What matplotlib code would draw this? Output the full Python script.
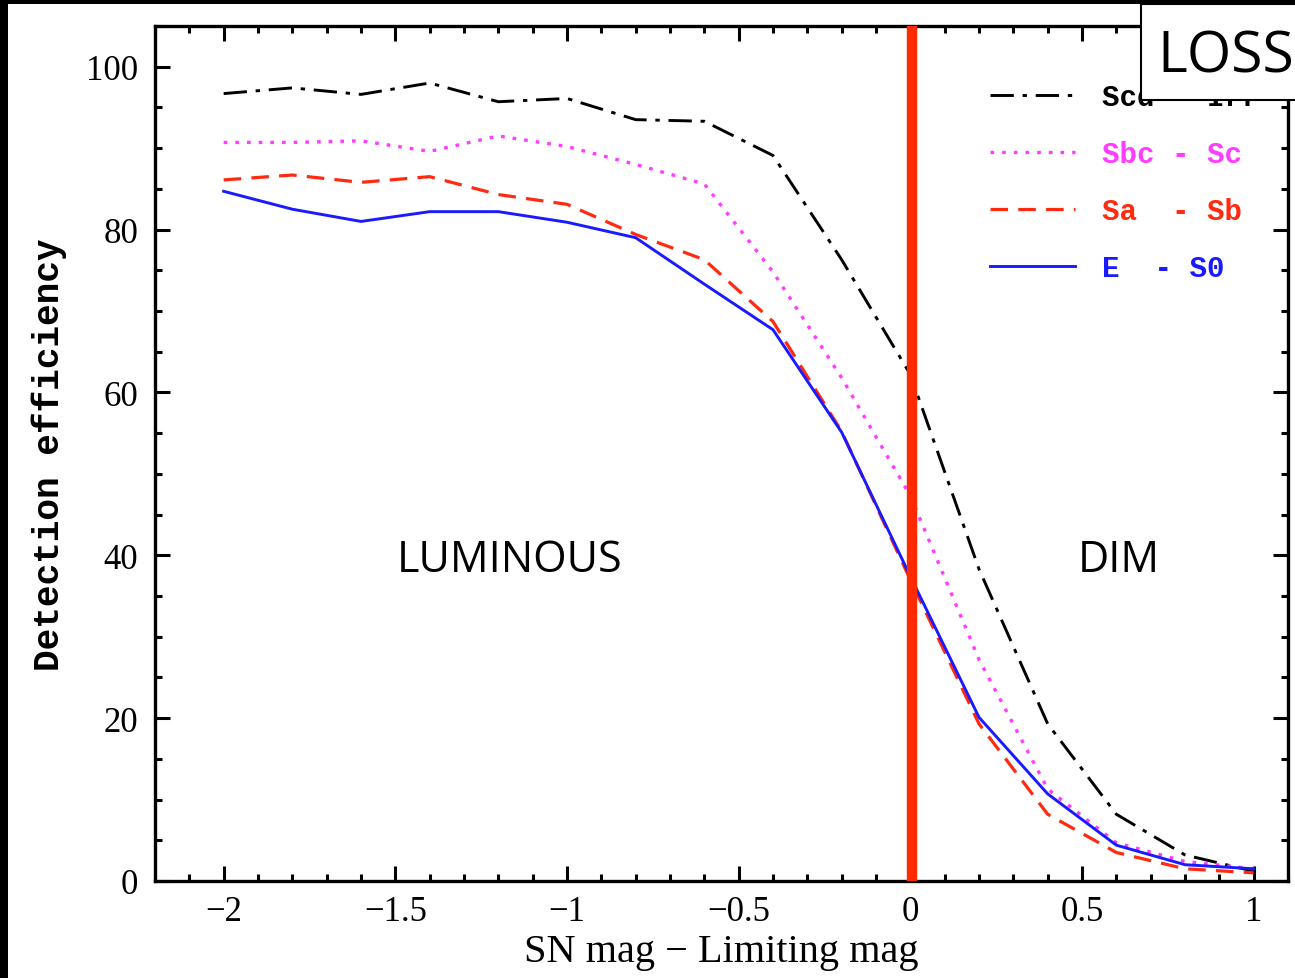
import matplotlib
matplotlib.use('Agg')
import matplotlib.pyplot as plt
from matplotlib.patches import Rectangle
from matplotlib.ticker import MultipleLocator, FuncFormatter

# Data
mag_diff = [-2.0, -1.8, -1.6, -1.4, -1.2, -1.0, -0.8, -0.6, -0.4, -0.2,
            0.0, 0.2, 0.4, 0.6, 0.8, 1.0]

eff_scd_irr = [96.7, 97.4, 96.6, 98.0, 95.7, 96.1, 93.5, 93.3, 89.1, 76.3,
               62.2, 38.3, 19.3, 8.2, 3.2, 1.2]
eff_sbc_sc = [90.7, 90.7, 90.9, 89.6, 91.5, 90.2, 88.0, 85.6, 74.8, 61.8,
              47.3, 27.2, 11.3, 4.7, 2.4, 1.5]
eff_sa_sb = [86.1, 86.7, 85.8, 86.5, 84.3, 83.1, 79.4, 76.3, 68.7, 55.2,
             37.0, 19.3, 8.2, 3.5, 1.5, 1.0]
eff_e_s0 = [84.7, 82.5, 81.0, 82.2, 82.2, 80.9, 79.0, 73.3, 67.7, 55.1,
            37.4, 20.1, 10.7, 4.4, 2.0, 1.5]

labels = ['Scd - Irr', 'Sbc - Sc', 'Sa  - Sb', 'E  - S0']
colors = ['black', '#ff3cff', '#ff2a10', '#1a1aff']
limit_x = 0.005

serif = 'Liberation Serif'
mono = 'Liberation Mono'

fig = plt.figure(figsize=(12.95, 9.79), dpi=100)
ax = fig.add_axes([155/1295, 1 - 882/979, (1288 - 155)/1295, (882 - 27)/979])

ax.plot(mag_diff, eff_scd_irr, color=colors[0], lw=2.1,
        dashes=(8, 3, 1.5, 3), label=labels[0])
ax.plot(mag_diff, eff_sbc_sc, color=colors[1], lw=2.4,
        dashes=(1.1, 2.4), label=labels[1])
ax.plot(mag_diff, eff_sa_sb, color=colors[2], lw=2.3,
        dashes=(5.5, 3.2), label=labels[2])
ax.plot(mag_diff, eff_e_s0, color=colors[3], lw=2.1, label=labels[3])

ax.axvline(limit_x, color='#ff2a00', lw=7.5, zorder=5)

ax.set_xlim(-2.2, 1.1)
ax.set_ylim(0, 105)

ax.xaxis.set_major_locator(MultipleLocator(0.5))
ax.xaxis.set_minor_locator(MultipleLocator(0.1))
ax.yaxis.set_major_locator(MultipleLocator(20))
ax.yaxis.set_minor_locator(MultipleLocator(5))
ax.xaxis.set_major_formatter(FuncFormatter(lambda v, p: ('%g' % v).replace('-', '\u2212')))

ax.tick_params(which='both', direction='in', top=True, right=True, width=2.2,
               color='black')
ax.tick_params(which='major', length=11)
ax.tick_params(which='minor', length=5)
ax.tick_params(axis='x', which='major', pad=10)
ax.tick_params(axis='y', which='major', pad=12)
for sp in ax.spines.values():
    sp.set_linewidth(2.4)

for lab in ax.get_xticklabels() + ax.get_yticklabels():
    lab.set_fontfamily(serif)
    lab.set_fontsize(25)

ax.set_xlabel('SN mag \u2212 Limiting mag', fontfamily=serif, fontsize=29,
              labelpad=4)
ax.set_ylabel('Detection efficiency', fontfamily=mono, fontweight='bold',
              fontsize=26, labelpad=14)

leg = ax.legend(loc='upper left', bbox_to_anchor=(0.737, 0.933),
                frameon=False, handlelength=2.9, handletextpad=0.95,
                labelspacing=0.99, borderpad=0, borderaxespad=0,
                prop={'family': mono, 'weight': 'bold', 'size': 21})
for txt, c in zip(leg.get_texts(), colors):
    txt.set_color(c)

ax.text(-1.166, 39.5, 'LUMINOUS', fontfamily='Open Sans', fontsize=31,
        ha='center', va='center')
ax.text(0.606, 39.5, 'DIM', fontfamily='Open Sans', fontsize=31,
        ha='center', va='center')

# LOSS box in the top right corner
fig.patches.append(Rectangle((1141/1295, 1 - 101/979), 0.2, 96/979,
                             transform=fig.transFigure, facecolor='white',
                             edgecolor='black', lw=1.5, zorder=10))
fig.text(1226/1295, 1 - 58/979, 'LOSS', fontfamily='Open Sans', fontsize=41,
         ha='center', va='center', zorder=11)

# black frame on the left and top
fig.patches.append(Rectangle((0, 0), 8/1295, 1, transform=fig.transFigure,
                             facecolor='black', edgecolor='none', zorder=12))
fig.patches.append(Rectangle((0, 1 - 5/979), 1, 5/979, transform=fig.transFigure,
                             facecolor='black', edgecolor='none', zorder=12))

fig.savefig('out.png', dpi=100)
